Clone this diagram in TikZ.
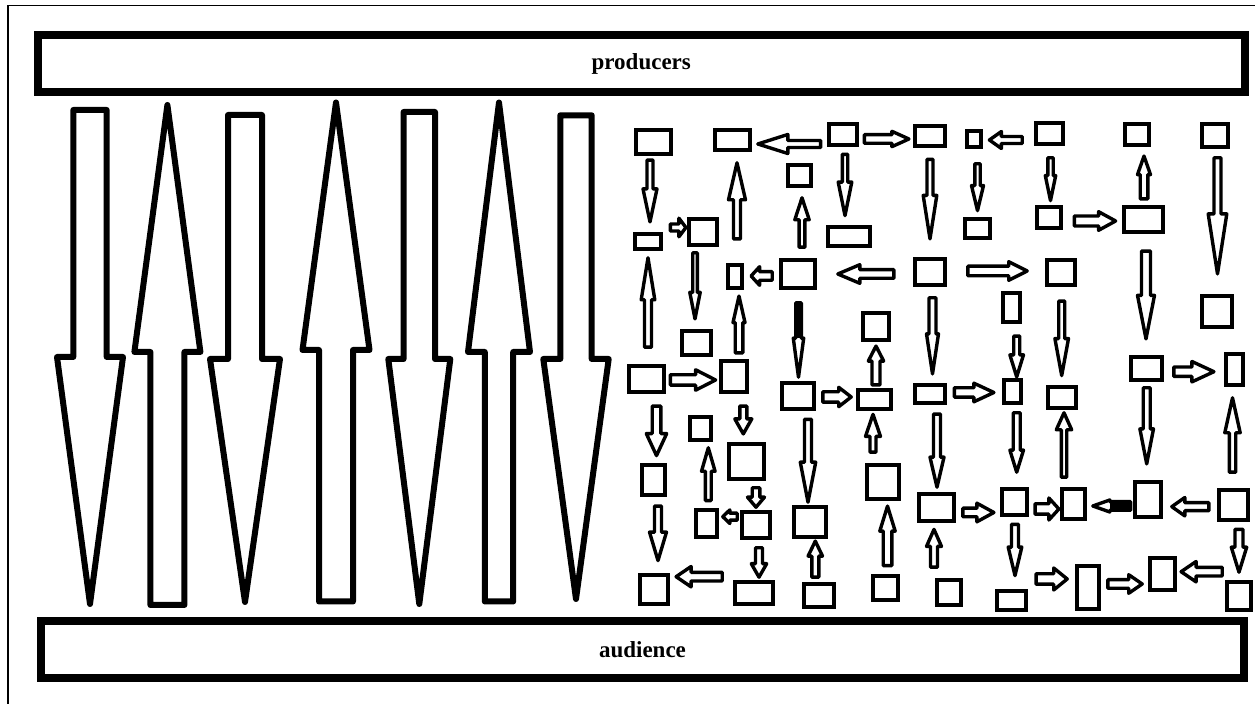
\documentclass[tikz,border=0pt]{standalone}
\usepackage{fontspec}
\setmainfont{Liberation Serif}
\usetikzlibrary{calc}

\tikzset{
  smallbox/.style={draw, line width=2.2pt, inner sep=0pt, outer sep=0pt},
  bigbox/.style={draw, line width=4pt, inner sep=0pt, outer sep=0pt,
    font=\bfseries\fontsize{11.5}{14}\selectfont},
  blockarrow/.style={draw, line width=1.7pt, line join=round},
  bigarrow/.style={line width=3pt},
  frame/.style={draw, line width=0.9pt}
}

% box: name, centre x, centre y, outer width, outer height (all in px)
\newcommand\putbox[5]{%
  \pgfmathsetlengthmacro\pbw{(#4-4.4)*0.5pt}%
  \pgfmathsetlengthmacro\pbh{(#5-4.4)*0.5pt}%
  \node[smallbox, minimum width=\pbw, minimum height=\pbh] (#1) at (#2,#3) {};}

% block arrow: [style], tail point, tip point, shaft half-width, head half-width, head length (px)
\newcommand\barrow[6][]{%
  \pgfmathsetlengthmacro\bas{#4*0.5pt}%
  \pgfmathsetlengthmacro\bah{#5*0.5pt}%
  \pgfmathsetlengthmacro\bal{#6*0.5pt}%
  \coordinate (ba-t) at #2;
  \coordinate (ba-h) at #3;
  \coordinate (ba-b) at ($(ba-h)!\bal!(ba-t)$);
  \draw[blockarrow, #1]
    ($(ba-t)!\bas!90:(ba-h)$) -- ($(ba-b)!\bas!90:(ba-h)$) -- ($(ba-b)!\bah!90:(ba-h)$)
    -- (ba-h) -- ($(ba-b)!\bah!-90:(ba-h)$) -- ($(ba-b)!\bas!-90:(ba-h)$)
    -- ($(ba-t)!\bas!-90:(ba-h)$) -- cycle;}

% solid black shaft for the last block arrow
\newcommand\shaftfill{%
  \fill ($(ba-t)!\bas!90:(ba-h)$) -- ($(ba-b)!\bas!90:(ba-h)$)
    -- ($(ba-b)!\bas!-90:(ba-h)$) -- ($(ba-t)!\bas!-90:(ba-h)$) -- cycle;}

% directional arrows between two boxes:
% source, target, position across, gap at tail, gap at tip, shaft hw, head hw, head length
\newcommand\darr[8]{\barrow{($(#1.south -| #3,0)+(0,#4)$)}{($(#2.north -| #3,0)+(0,-#5)$)}{#6}{#7}{#8}}
\newcommand\uarr[8]{\barrow{($(#1.north -| #3,0)+(0,-#4)$)}{($(#2.south -| #3,0)+(0,#5)$)}{#6}{#7}{#8}}
\newcommand\rarr[8]{\barrow{($(#1.east |- 0,#3)+(#4,0)$)}{($(#2.west |- 0,#3)+(-#5,0)$)}{#6}{#7}{#8}}
\newcommand\larr[8]{\barrow{($(#1.west |- 0,#3)+(-#4,0)$)}{($(#2.east |- 0,#3)+(#5,0)$)}{#6}{#7}{#8}}

\begin{document}
\begin{tikzpicture}[x=0.5pt, y=-0.5pt]
\path[use as bounding box, fill=white] (0,0) rectangle (1255,704);
\begin{scope}
  \clip (0,0) rectangle (1255,704);
  \draw[frame] (8,5.5) rectangle (1270,720);
\end{scope}

% the two layers
\node[bigbox, minimum width=603.25pt, minimum height=28.25pt] (prod) at (641.25,63.75) {producers};
\node[bigbox, minimum width=601.5pt, minimum height=28.5pt] (aud) at (642.5,649.5) {audience};

% direct channels between producers and audience
\barrow[bigarrow]{($(prod.south -| 90,0)+(0,18)$)}{($(aud.north -| 90,0)+(0,-17)$)}{16.7}{33}{247}
\barrow[bigarrow]{($(aud.north -| 167.4,0)+(0,-16)$)}{($(prod.south -| 167.4,0)+(0,13)$)}{17}{33}{247}
\barrow[bigarrow]{($(prod.south -| 245,0)+(0,23)$)}{($(aud.north -| 245,0)+(0,-19)$)}{17}{35}{243}
\barrow[bigarrow]{($(aud.north -| 336,0)+(0,-19.5)$)}{($(prod.south -| 336,0)+(0,10.5)$)}{17}{33.5}{247.5}
\barrow[bigarrow]{($(prod.south -| 419.3,0)+(0,20)$)}{($(aud.north -| 419.3,0)+(0,-17)$)}{15.7}{31}{245}
\barrow[bigarrow]{($(aud.north -| 499,0)+(0,-19.5)$)}{($(prod.south -| 499,0)+(0,10.5)$)}{14.2}{31}{249.5}
\barrow[bigarrow]{($(prod.south -| 576,0)+(0,23.3)$)}{($(aud.north -| 576,0)+(0,-22)$)}{15.7}{32.7}{240}

% the network of intermediaries
\putbox{A}{653.5}{142}{39}{28}
\putbox{B}{648}{241.5}{30}{19}
\putbox{C}{703}{232}{32}{30}
\putbox{D}{732.5}{140}{39}{24}
\putbox{E}{843}{134.5}{32}{25}
\putbox{F}{930}{136}{34}{24}
\putbox{G}{799.5}{175.5}{27}{25}
\putbox{H}{849}{236.5}{46}{23}
\putbox{I}{735}{276.5}{18}{27}
\putbox{J}{798}{274}{38}{32}
\putbox{K}{930}{272}{34}{30}
\putbox{L}{974}{139}{18}{20}
\putbox{M}{1049.5}{133.5}{31}{25}
\putbox{N}{1137}{134.5}{28}{25}
\putbox{O}{1215}{135.5}{30}{27}
\putbox{P}{977.5}{228.5}{29}{23}
\putbox{Q}{1049}{217.5}{28}{25}
\putbox{R}{1143.5}{219.5}{43}{29}
\putbox{T}{1061}{272.5}{32}{29}
\putbox{U}{696.5}{343}{33}{28}
\putbox{V}{646.5}{379}{39}{30}
\putbox{W}{734}{376.5}{30}{35}
\putbox{X}{798}{396}{36}{30}
\putbox{Y}{874.5}{399.5}{37}{23}
\putbox{Z}{876}{326.5}{30}{31}
\putbox{AA}{930}{394}{34}{22}
\putbox{AB}{700.5}{428.5}{25}{27}
\putbox{AC}{746.5}{461.5}{39}{39}
\putbox{AD}{1011.5}{307.5}{21}{33}
\putbox{AE}{1012.5}{391.5}{21}{27}
\putbox{AF}{1062}{397.5}{32}{25}
\putbox{AG}{1217}{311.5}{34}{35}
\putbox{AH}{1146.5}{368.5}{35}{27}
\putbox{AI}{1234.5}{369.5}{21}{35}
\putbox{AJ}{653.5}{480}{27}{34}
\putbox{AK}{706.5}{523.5}{25}{31}
\putbox{AL}{756}{525}{32}{30}
\putbox{AM}{810}{522}{36}{34}
\putbox{AN}{883}{482}{36}{38}
\putbox{AO}{936.5}{507.5}{39}{31}
\putbox{AP}{654}{589.5}{32}{33}
\putbox{AQ}{754}{593}{42}{26}
\putbox{AR}{819}{595.5}{34}{27}
\putbox{AS}{885.5}{588}{29}{28}
\putbox{AT}{949}{592.5}{28}{29}
\putbox{AU}{1014.5}{502}{29}{30}
\putbox{AV}{1073.5}{504}{27}{34}
\putbox{AW}{1148}{499.5}{30}{39}
\putbox{AX}{1233.5}{505}{33}{34}
\putbox{AY}{1239}{596}{28}{32}
\putbox{AZ}{1162.5}{574}{29}{36}
\putbox{BA}{1088}{587.5}{26}{47}
\putbox{BB}{1011.5}{600.5}{33}{23}

% flows between intermediaries
\darr{A}{B}{650}{6.3}{12.3}{3}{7}{33}
\rarr{B}{C}{227.5}{9.6}{3.3}{3.5}{9.3}{7}
\larr{E}{D}{144}{8.6}{8}{3.5}{9.5}{30}
\rarr{E}{F}{139}{7.6}{6.3}{4.3}{7.7}{17}
\uarr{I}{D}{737}{26.3}{13}{3.5}{8.5}{37}
\uarr{J}{G}{802}{13}{12}{2.9}{7.2}{22}
\darr{E}{H}{845}{9.6}{11.6}{2.7}{6.8}{33.5}
\darr{F}{K}{930}{13.6}{20.3}{3}{6.8}{43.5}
\larr{M}{L}{140}{14}{8.6}{3.5}{8.5}{12}
\darr{L}{P}{977.5}{17}{8.6}{2.7}{6}{25}
\darr{M}{Q}{1050.5}{14}{6.6}{2.7}{5.2}{25}
\rarr{Q}{R}{221}{13.6}{8.6}{5}{9.3}{17}
\uarr{R}{N}{1144}{8.3}{11.3}{3.8}{6.5}{18.5}
\darr{O}{AG}{1217.5}{11}{22.3}{3.5}{9.3}{60}
\larr{K}{J}{274}{21.3}{23}{4.3}{9.3}{22}
\larr{J}{I}{276}{9}{9.3}{4.3}{9.3}{8.5}
\rarr{K}{T}{271}{23}{20}{4.8}{9.3}{18.5}
\uarr{V}{B}{648}{19}{9}{3.5}{6.8}{42}
\darr{C}{U}{695}{8}{12.3}{2.3}{5.2}{26.5}
\uarr{W}{I}{739}{8.3}{8.3}{3.8}{6}{26.5}
\rarr{V}{W}{380}{6.6}{5.6}{5.2}{10.2}{20}
\darr{J}{X}{798.5}{15}{6}{2.8}{5.2}{39}
\shaftfill
\rarr{X}{Y}{397}{9}{7}{5.2}{9.7}{12.5}
\uarr{Y}{Z}{876}{5.3}{6.3}{4}{7.7}{15}
\darr{K}{AA}{932.5}{13}{11.3}{3.5}{6}{40}
\rarr{AA}{AE}{392.5}{9.6}{10.3}{4.7}{9.3}{20}
\darr{AD}{AE}{1016.7}{14.3}{3.3}{3}{6.8}{22}
\darr{T}{AF}{1061.7}{16.3}{11.6}{3}{6.8}{37}
\darr{R}{AH}{1146}{19.3}{18.3}{4.5}{8.5}{43.5}
\rarr{AH}{AI}{371.7}{12}{12.3}{4.7}{10.2}{22}
\darr{V}{AJ}{656.5}{14.3}{9.6}{4.3}{10.2}{22}
\uarr{AK}{AB}{708.3}{9.6}{8}{2.9}{6.8}{23.5}
\darr{W}{AC}{743.3}{14.3}{10.3}{3.5}{8.5}{15}
\darr{AC}{AL}{756}{9}{5}{3.8}{8.5}{10}
\larr{AL}{AK}{516.7}{5}{6}{3.5}{6.8}{7}
\darr{X}{AM}{808}{10.6}{5}{3.5}{7.7}{40}
\uarr{AN}{Y}{873}{13}{5.6}{3}{7.5}{22}
\darr{AA}{AO}{937}{11.3}{7}{3.5}{7}{30}
\uarr{AS}{AN}{887.5}{10.6}{7.3}{4.3}{7.7}{25}
\uarr{AT}{AO}{934}{13}{8.6}{3.5}{7.5}{17}
\darr{AJ}{AP}{658}{11.3}{14.6}{3.5}{8.5}{28.5}
\larr{AQ}{AP}{576.7}{13}{8.3}{4.3}{10.2}{15}
\darr{AL}{AQ}{759}{10}{5}{3.5}{7.7}{13.5}
\uarr{AR}{AM}{815.3}{7}{4.3}{3.5}{7.2}{15}
\rarr{AO}{AU}{512.5}{9}{8.3}{4.3}{9.3}{17}
\darr{AE}{AU}{1016.7}{10}{17}{3.5}{6.8}{22}
\rarr{AU}{AV}{509}{8.3}{3.3}{5.2}{11}{10}
\uarr{AV}{AF}{1064}{12}{5}{2.7}{7.7}{17}
\larr{AW}{AV}{506}{4.6}{8}{4.3}{6}{17}
\shaftfill
\darr{AH}{AW}{1146.7}{8}{18.3}{3.5}{6.8}{35}
\larr{AX}{AW}{506.7}{10.3}{11}{4}{9.2}{13}
\uarr{AX}{AI}{1232.5}{18}{13}{3.2}{7.7}{35}
\darr{AX}{AY}{1239}{9.6}{10}{4}{7.7}{25}
\larr{AY}{AZ}{571.7}{5}{6.3}{4.3}{10.2}{15}
\rarr{BA}{AZ}{584}{9}{8}{4.3}{9.3}{13.5}
\rarr{BB}{BA}{579}{10.3}{10}{5.2}{11}{13.5}
\darr{AU}{BB}{1015}{9.6}{15.6}{3.5}{6.8}{28.5}
\end{tikzpicture}
\end{document}
